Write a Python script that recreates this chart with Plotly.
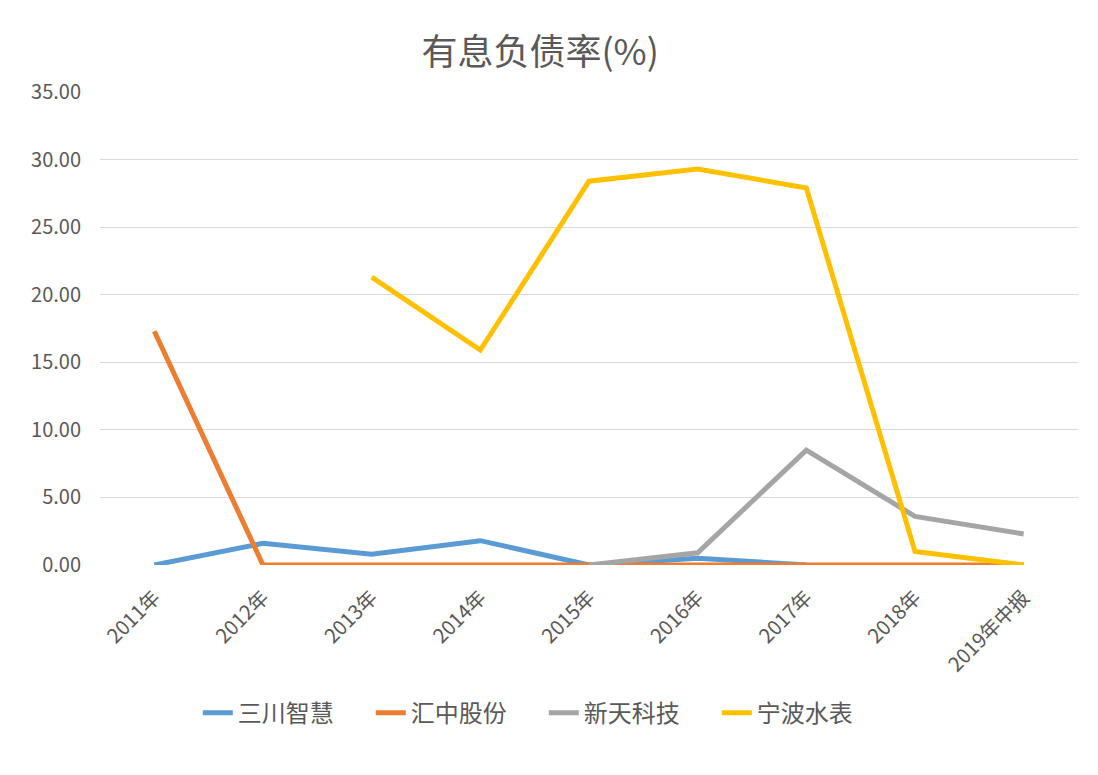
import plotly.graph_objects as go

categories = ["2011年", "2012年", "2013年", "2014年", "2015年", "2016年", "2017年", "2018年", "2019年中报"]
sanchuan = [0.0, 1.6, 0.8, 1.8, 0.0, 0.5, 0.0, None, None]
huizhong = [17.3, 0.0, 0.0, 0.0, 0.0, 0.0, 0.0, 0.0, 0.0]
xintian = [None, None, None, None, 0.0, 0.9, 8.5, 3.6, 2.3]
ningbo = [None, None, 21.3, 15.9, 28.4, 29.3, 27.9, 1.0, 0.0]

series = [
    ("三川智慧", sanchuan, "#5B9BD5"),
    ("汇中股份", huizhong, "#ED7D31"),
    ("新天科技", xintian, "#A5A5A5"),
    ("宁波水表", ningbo, "#FFC000"),
]

font_family = "Noto Sans CJK SC, Microsoft YaHei, sans-serif"
fig = go.Figure()
for name, vals, color in series:
    fig.add_trace(go.Scatter(
        x=categories, y=vals, name=name, mode="lines",
        line=dict(color=color, width=5), connectgaps=False,
    ))

fig.update_layout(
    width=1098, height=775,
    margin=dict(l=100, r=20, t=92, b=210),
    paper_bgcolor="white", plot_bgcolor="white",
    font=dict(family=font_family, color="#595959", size=15),
    title=dict(text="有息负债率(%)", x=0.492, xanchor="center", y=0.933, yanchor="middle",
               font=dict(size=36, color="#595959", family=font_family)),
    showlegend=True,
    legend=dict(orientation="h", x=0.1, xanchor="left", y=-0.313, yanchor="middle",
                font=dict(size=24, color="#595959"), entrywidth=128, entrywidthmode="pixels"),
)
fig.update_xaxes(
    type="category", range=[-0.5, 8.5], tickangle=-45, showgrid=False, showline=False,
    ticks="", ticklabelstandoff=16, tickfont=dict(size=20, color="#595959"),
)
fig.update_yaxes(
    range=[0, 35], dtick=5, tickformat=".2f", showgrid=True, gridcolor="#D9D9D9",
    gridwidth=1.3, zeroline=False, showline=False, ticks="", ticklabelstandoff=18,
    tickfont=dict(size=20, color="#595959"),
)

fig.write_html("out.html")
